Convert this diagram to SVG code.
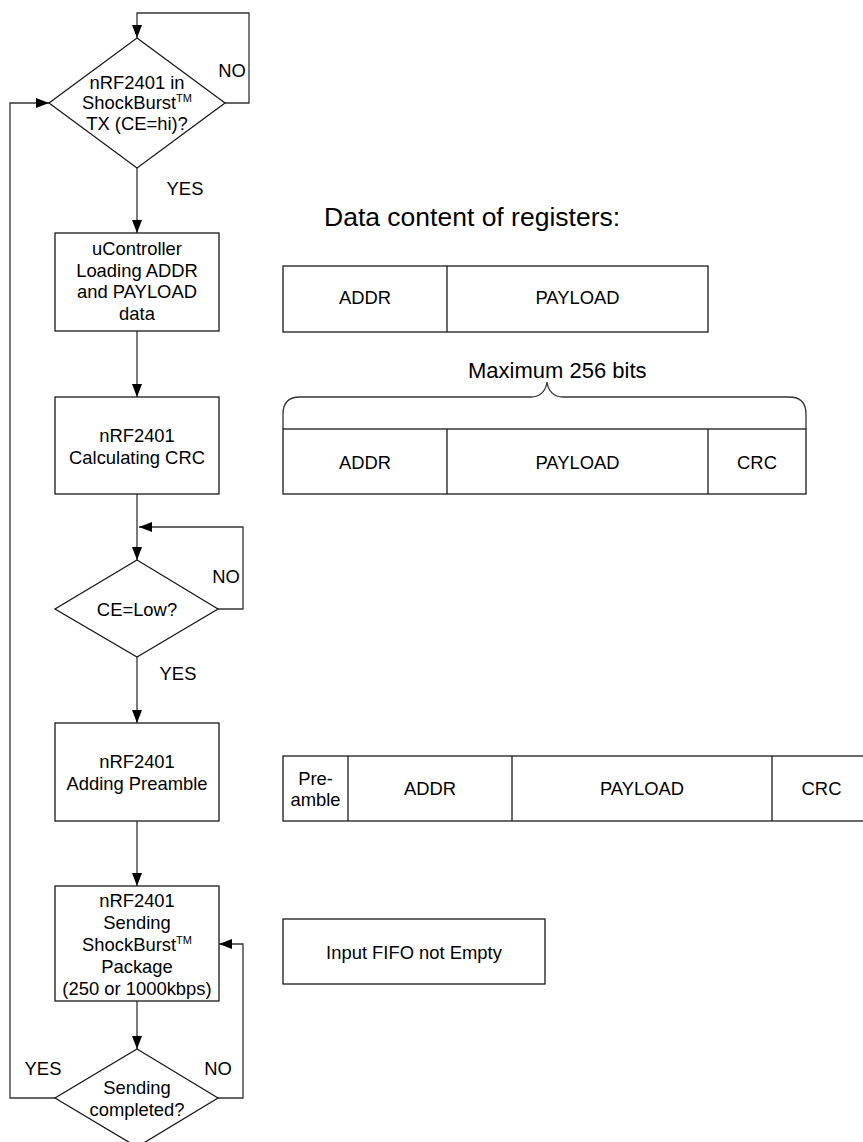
<svg xmlns="http://www.w3.org/2000/svg" width="863" height="1142" viewBox="0 0 863 1142">
<style>
text{font-family:"Liberation Sans",Arial,sans-serif;font-size:18.4px;fill:#000;text-anchor:middle}
.sh{fill:#fff;stroke:#1a1a1a;stroke-width:1.3}
.cn{fill:none;stroke:#333;stroke-width:1.3}
.tm{font-size:11px}
.big{font-size:26.5px;text-anchor:start}
.mid{font-size:22px;text-anchor:start}
</style>
<defs>
<marker id="ah" markerUnits="userSpaceOnUse" markerWidth="13" markerHeight="10" refX="13" refY="5" orient="auto">
<path d="M0,0 L13,5 L0,10 z" fill="#000"/>
</marker>
</defs>
<rect width="863" height="1142" fill="#fff"/>

<g id="connectors">
<polyline class="cn" points="225,103 249,103 249,13 137,13 137,38" marker-end="url(#ah)"/>
<line class="cn" x1="137" y1="168" x2="137" y2="233" marker-end="url(#ah)"/>
<line class="cn" x1="137" y1="331" x2="137" y2="397" marker-end="url(#ah)"/>
<line class="cn" x1="137" y1="494" x2="137" y2="560" marker-end="url(#ah)"/>
<polyline class="cn" points="218,609 243,609 243,527 139,527" marker-end="url(#ah)"/>
<line class="cn" x1="137" y1="657" x2="137" y2="723" marker-end="url(#ah)"/>
<line class="cn" x1="137" y1="821" x2="137" y2="886" marker-end="url(#ah)"/>
<line class="cn" x1="137" y1="1001" x2="137" y2="1049" marker-end="url(#ah)"/>
<polyline class="cn" points="218,1098 243,1098 243,944 219,944" marker-end="url(#ah)"/>
<polyline class="cn" points="55,1098 10,1098 10,103 49,103" marker-end="url(#ah)"/>
<text x="232" y="77">NO</text>
<text x="185" y="195">YES</text>
<text x="226" y="583">NO</text>
<text x="178" y="680">YES</text>
<text x="43" y="1075">YES</text>
<text x="218" y="1075">NO</text>
</g>

<g id="d1">
<polygon class="sh" points="137,38 225,103 137,168 49,103"/>
<text x="137" y="89">nRF2401 in</text>
<text x="137" y="109">ShockBurst<tspan class="tm" dy="-7">TM</tspan></text>
<text x="137" y="130">TX (CE=hi)?</text>
</g>

<g id="b1">
<rect class="sh" x="55" y="233" width="164" height="98"/>
<text x="137" y="255">uController</text>
<text x="137" y="276.5">Loading ADDR</text>
<text x="137" y="298">and PAYLOAD</text>
<text x="137" y="320">data</text>
</g>

<g id="b2">
<rect class="sh" x="55" y="397" width="164" height="97"/>
<text x="137" y="442">nRF2401</text>
<text x="137" y="464">Calculating CRC</text>
</g>

<g id="d2">
<polygon class="sh" points="137,560 218,609 137,657 55,609"/>
<text x="137" y="616">CE=Low?</text>
</g>

<g id="b3">
<rect class="sh" x="55" y="723" width="164" height="98"/>
<text x="137" y="768">nRF2401</text>
<text x="137" y="789.5">Adding Preamble</text>
</g>

<g id="b4">
<rect class="sh" x="55" y="886" width="164" height="115"/>
<text x="137" y="907">nRF2401</text>
<text x="137" y="929">Sending</text>
<text x="137" y="951">ShockBurst<tspan class="tm" dy="-7">TM</tspan></text>
<text x="137" y="973">Package</text>
<text x="137" y="995">(250 or 1000kbps)</text>
</g>

<g id="d3">
<polygon class="sh" points="137,1049 218,1098 137,1147 55,1098"/>
<text x="137" y="1094">Sending</text>
<text x="137" y="1116">completed?</text>
</g>

<g id="title">
<text class="big" x="324" y="226">Data content of registers:</text>
</g>

<g id="reg1">
<rect class="sh" x="283" y="266" width="425" height="66"/>
<line class="sh" x1="447" y1="266" x2="447" y2="332"/>
<text x="365" y="304">ADDR</text>
<text x="577.5" y="304">PAYLOAD</text>
</g>

<g id="brace">
<text class="mid" x="468" y="378">Maximum 256 bits</text>
<path class="cn" d="M283,429 L283,414 Q283,397 300,397 L531,397 C540,397 546,391 547,382 C548,391 554,397 563,397 L789,397 Q806,397 806,414 L806,429"/>
</g>

<g id="reg2">
<rect class="sh" x="283" y="429" width="523" height="65"/>
<line class="sh" x1="447" y1="429" x2="447" y2="494"/>
<line class="sh" x1="708" y1="429" x2="708" y2="494"/>
<text x="365" y="468.5">ADDR</text>
<text x="577.5" y="468.5">PAYLOAD</text>
<text x="757" y="468.5">CRC</text>
</g>

<g id="reg3">
<rect class="sh" x="283" y="756" width="588" height="65"/>
<line class="sh" x1="348" y1="756" x2="348" y2="821"/>
<line class="sh" x1="512" y1="756" x2="512" y2="821"/>
<line class="sh" x1="772" y1="756" x2="772" y2="821"/>
<text x="315.5" y="784.5">Pre-</text>
<text x="315.5" y="806">amble</text>
<text x="430" y="795">ADDR</text>
<text x="642" y="795">PAYLOAD</text>
<text x="821.5" y="795">CRC</text>
</g>

<g id="fifo">
<rect class="sh" x="283" y="919" width="262" height="65"/>
<text x="414" y="958.5">Input FIFO not Empty</text>
</g>
</svg>
